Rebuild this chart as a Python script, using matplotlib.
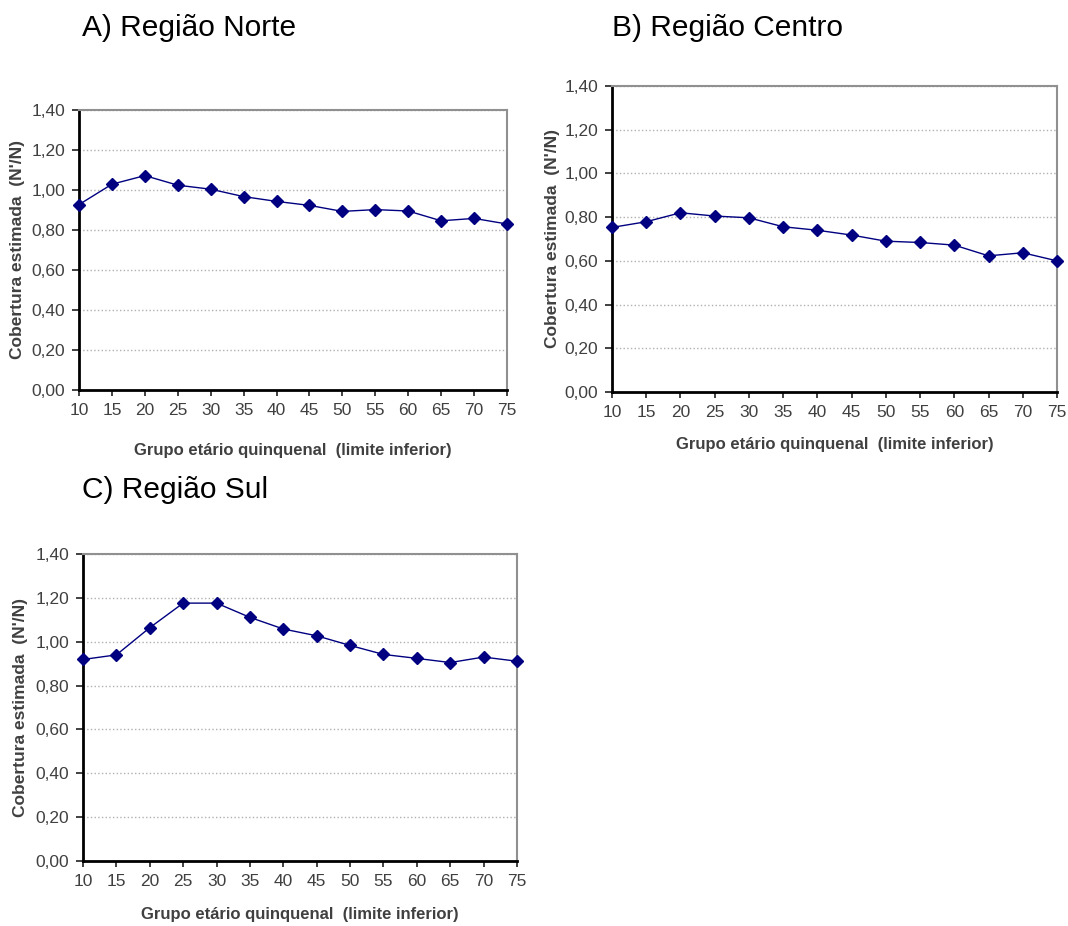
import numpy as np
import matplotlib
matplotlib.use('Agg')
import matplotlib.pyplot as plt
from matplotlib.ticker import FuncFormatter

plt.rcParams['font.family'] = ['Liberation Sans', 'DejaVu Sans']

idades = [10, 15, 20, 25, 30, 35, 40, 45, 50, 55, 60, 65, 70, 75]
norte = [0.927, 1.029, 1.072, 1.024, 1.004, 0.967, 0.943, 0.923, 0.893, 0.902, 0.895, 0.846, 0.858, 0.830]
centro = [0.753, 0.779, 0.820, 0.805, 0.797, 0.756, 0.740, 0.718, 0.690, 0.684, 0.672, 0.623, 0.637, 0.600]
sul = [0.919, 0.940, 1.064, 1.176, 1.176, 1.111, 1.058, 1.027, 0.983, 0.942, 0.924, 0.905, 0.930, 0.911]
yticks = [0.0, 0.2, 0.4, 0.6, 0.8, 1.0, 1.2, 1.4]

W, H = 1068, 926
fig = plt.figure(figsize=(W/100., H/100.), dpi=100)
cinza = '#404040'


def painel(l, r, t, b, y, titulo, tx, ty, xlab_y, ylab_x):
    ax = fig.add_axes([l/W, 1-b/H, (r-l)/W, (b-t)/H])
    ax.plot(idades, y, '-', color='#000080', lw=1.0, marker='D', ms=6,
            mfc='#000080', mec='#000080', clip_on=False, zorder=3)
    ax.set_xlim(10, 75)
    ax.set_ylim(0, 1.4)
    ax.set_xticks(idades)
    ax.set_yticks(yticks)
    ax.yaxis.set_major_formatter(FuncFormatter(lambda v, p: ('%.2f' % v).replace('.', ',')))
    ax.grid(True, axis='y', color='#b0b0b0', ls=':', lw=1.0)
    ax.set_axisbelow(True)
    for s in ['left', 'bottom']:
        ax.spines[s].set_color('black')
        ax.spines[s].set_linewidth(2.0)
    for s in ['top', 'right']:
        ax.spines[s].set_color('#909090')
        ax.spines[s].set_linewidth(1.5)
    ax.tick_params(axis='x', direction='out', length=4, width=1.2, labelsize=12.5,
                   labelcolor=cinza, color='#202020', pad=5.5)
    ax.tick_params(axis='y', direction='out', length=5, width=1.2, labelsize=12.5,
                   labelcolor=cinza, color='#202020', pad=5)
    fig.text(ylab_x/W, 1-(t+b)/2./H, "Cobertura estimada  (N'/N)", rotation=90,
             ha='center', va='center', fontsize=12.5, fontweight='bold', color=cinza)
    fig.text((l+r)/2./W, 1-xlab_y/H, 'Grupo etário quinquenal  (limite inferior)',
             ha='center', va='center', fontsize=12, fontweight='bold', color=cinza)
    fig.text(tx/W, 1-ty/H, titulo, ha='left', va='center', fontsize=21.5, color='black')
    return ax


painel(79, 507, 110, 390, norte, 'A) Região Norte', 82, 28, 450, 18)
painel(612, 1057, 86, 392, centro, 'B) Região Centro', 612, 28, 445, 552)
painel(83, 517, 554, 861, sul, 'C) Região Sul', 82, 490, 915, 21)

fig.savefig('out.png', dpi=100)
